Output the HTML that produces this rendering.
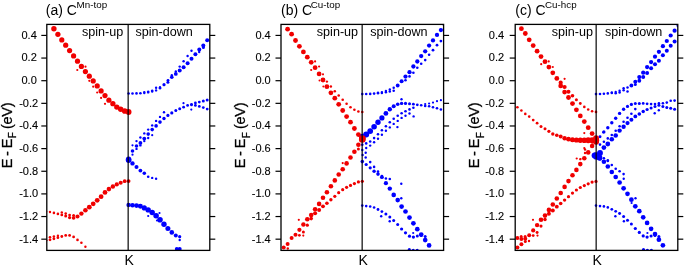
<!DOCTYPE html>
<html><head><meta charset="utf-8"><style>
html,body{margin:0;padding:0;background:#fff;}
svg{display:block;will-change:transform;font-family:"Liberation Sans",sans-serif;fill:#111;}
text{fill:#000;}
</style></head><body>
<svg width="685" height="267" viewBox="0 0 685 267">
<defs>
<clipPath id="c0"><rect x="46.8" y="24.4" width="163.0" height="226.0"/></clipPath>
<clipPath id="c1"><rect x="281.0" y="24.4" width="162.6" height="226.0"/></clipPath>
<clipPath id="c2"><rect x="515.2" y="24.4" width="162.6" height="226.0"/></clipPath>
</defs>
<g clip-path="url(#c0)">
<g fill="#0000ff">
<circle cx="128.6" cy="93.5" r="1.30"/>
<circle cx="132.5" cy="93.5" r="1.30"/>
<circle cx="136.5" cy="93.4" r="1.30"/>
<circle cx="140.4" cy="93.2" r="1.30"/>
<circle cx="144.3" cy="93.0" r="1.20"/>
<circle cx="148.2" cy="92.4" r="1.20"/>
<circle cx="152.2" cy="91.5" r="1.20"/>
<circle cx="156.1" cy="90.4" r="1.20"/>
<circle cx="160.0" cy="88.2" r="1.25"/>
<circle cx="164.0" cy="84.7" r="1.59"/>
<circle cx="167.9" cy="82.3" r="1.50"/>
<circle cx="171.8" cy="77.3" r="1.81"/>
<circle cx="175.8" cy="73.9" r="1.91"/>
<circle cx="179.7" cy="70.4" r="2.00"/>
<circle cx="183.6" cy="67.3" r="2.00"/>
<circle cx="187.6" cy="63.3" r="2.00"/>
<circle cx="191.5" cy="58.8" r="2.00"/>
<circle cx="195.4" cy="54.3" r="2.00"/>
<circle cx="199.3" cy="49.6" r="2.00"/>
<circle cx="203.3" cy="45.6" r="2.00"/>
<circle cx="207.2" cy="40.3" r="2.00"/>
<circle cx="144.3" cy="92.1" r="1.20"/>
<circle cx="148.2" cy="91.6" r="1.20"/>
<circle cx="152.2" cy="90.6" r="1.20"/>
<circle cx="156.1" cy="87.7" r="1.20"/>
<circle cx="160.0" cy="87.2" r="1.20"/>
<circle cx="168.0" cy="80.3" r="1.40"/>
<circle cx="203.4" cy="47.4" r="1.50"/>
<circle cx="199.2" cy="52.0" r="1.20"/>
<circle cx="171.8" cy="75.3" r="1.20"/>
<circle cx="175.8" cy="71.4" r="1.20"/>
<circle cx="179.7" cy="66.6" r="1.20"/>
<circle cx="183.6" cy="61.3" r="1.20"/>
<circle cx="187.6" cy="56.0" r="1.20"/>
<circle cx="191.5" cy="50.8" r="1.20"/>
<circle cx="128.6" cy="159.3" r="2.73"/>
<circle cx="132.5" cy="151.0" r="1.80"/>
<circle cx="136.5" cy="146.0" r="1.80"/>
<circle cx="140.4" cy="142.9" r="1.90"/>
<circle cx="144.3" cy="138.6" r="1.90"/>
<circle cx="148.2" cy="134.1" r="1.80"/>
<circle cx="152.2" cy="129.6" r="1.80"/>
<circle cx="156.1" cy="125.9" r="1.80"/>
<circle cx="160.0" cy="122.1" r="1.80"/>
<circle cx="164.0" cy="118.5" r="1.70"/>
<circle cx="167.9" cy="115.4" r="1.60"/>
<circle cx="171.8" cy="112.9" r="1.60"/>
<circle cx="175.8" cy="110.6" r="1.50"/>
<circle cx="179.7" cy="108.7" r="1.50"/>
<circle cx="183.6" cy="107.2" r="1.40"/>
<circle cx="187.6" cy="105.4" r="1.40"/>
<circle cx="191.5" cy="104.3" r="1.40"/>
<circle cx="195.4" cy="103.0" r="1.40"/>
<circle cx="199.3" cy="102.1" r="1.40"/>
<circle cx="203.3" cy="101.1" r="1.50"/>
<circle cx="207.2" cy="100.1" r="1.50"/>
<circle cx="132.5" cy="145.3" r="1.11"/>
<circle cx="136.5" cy="141.1" r="1.20"/>
<circle cx="140.4" cy="137.5" r="1.20"/>
<circle cx="144.3" cy="133.4" r="1.20"/>
<circle cx="148.2" cy="129.6" r="1.20"/>
<circle cx="152.2" cy="125.4" r="1.20"/>
<circle cx="156.1" cy="120.9" r="1.20"/>
<circle cx="160.0" cy="116.9" r="1.20"/>
<circle cx="164.0" cy="112.3" r="1.20"/>
<circle cx="191.5" cy="105.0" r="1.30"/>
<circle cx="195.4" cy="105.4" r="1.40"/>
<circle cx="199.3" cy="106.4" r="1.40"/>
<circle cx="203.3" cy="107.6" r="1.40"/>
<circle cx="207.2" cy="109.1" r="1.40"/>
<circle cx="132.5" cy="154.7" r="1.11"/>
<circle cx="136.5" cy="148.9" r="1.20"/>
<circle cx="140.4" cy="145.4" r="1.20"/>
<circle cx="144.3" cy="141.1" r="1.20"/>
<circle cx="148.2" cy="138.0" r="1.20"/>
<circle cx="152.2" cy="135.2" r="1.10"/>
<circle cx="191.3" cy="109.6" r="1.10"/>
<circle cx="183.5" cy="103.2" r="1.10"/>
<circle cx="128.6" cy="160.2" r="2.75"/>
<circle cx="132.5" cy="163.4" r="2.18"/>
<circle cx="136.5" cy="166.9" r="2.00"/>
<circle cx="140.4" cy="170.6" r="1.90"/>
<circle cx="144.3" cy="173.3" r="1.78"/>
<circle cx="148.2" cy="176.7" r="1.30"/>
<circle cx="152.2" cy="177.9" r="1.20"/>
<circle cx="156.1" cy="178.7" r="1.20"/>
<circle cx="128.6" cy="204.9" r="2.21"/>
<circle cx="132.5" cy="205.2" r="2.30"/>
<circle cx="136.5" cy="205.6" r="2.40"/>
<circle cx="140.4" cy="206.3" r="2.49"/>
<circle cx="144.3" cy="207.9" r="2.59"/>
<circle cx="148.2" cy="209.9" r="2.69"/>
<circle cx="152.2" cy="212.5" r="2.70"/>
<circle cx="156.1" cy="215.8" r="2.79"/>
<circle cx="160.0" cy="219.7" r="2.80"/>
<circle cx="164.0" cy="224.2" r="2.70"/>
<circle cx="167.9" cy="228.5" r="2.51"/>
<circle cx="171.8" cy="232.4" r="2.30"/>
<circle cx="175.8" cy="235.4" r="2.00"/>
<circle cx="179.7" cy="236.7" r="1.60"/>
<circle cx="176.8" cy="249.0" r="2.00"/>
<circle cx="179.7" cy="249.0" r="2.00"/>
<circle cx="148.2" cy="216.0" r="1.10"/>
<circle cx="159.5" cy="213.0" r="1.10"/>
<circle cx="157.0" cy="220.5" r="1.10"/>
<circle cx="179.7" cy="240.0" r="1.20"/>
</g>
<g fill="#f00000">
<circle cx="53.9" cy="28.7" r="2.70"/>
<circle cx="57.9" cy="34.3" r="2.65"/>
<circle cx="61.8" cy="39.9" r="2.60"/>
<circle cx="65.7" cy="45.2" r="2.60"/>
<circle cx="69.6" cy="50.6" r="2.60"/>
<circle cx="73.6" cy="55.9" r="2.60"/>
<circle cx="77.5" cy="61.2" r="2.60"/>
<circle cx="81.4" cy="66.4" r="2.60"/>
<circle cx="85.4" cy="71.6" r="2.60"/>
<circle cx="89.3" cy="76.2" r="2.60"/>
<circle cx="93.2" cy="80.9" r="2.60"/>
<circle cx="97.2" cy="85.9" r="2.60"/>
<circle cx="101.1" cy="90.9" r="2.60"/>
<circle cx="105.0" cy="95.6" r="2.60"/>
<circle cx="108.9" cy="100.2" r="2.60"/>
<circle cx="112.9" cy="103.7" r="2.65"/>
<circle cx="116.8" cy="107.1" r="2.70"/>
<circle cx="120.7" cy="109.2" r="2.71"/>
<circle cx="124.7" cy="111.0" r="2.82"/>
<circle cx="128.6" cy="112.0" r="2.90"/>
<circle cx="46.1" cy="211.5" r="1.20"/>
<circle cx="50.0" cy="212.0" r="1.21"/>
<circle cx="53.9" cy="212.9" r="1.30"/>
<circle cx="57.9" cy="213.9" r="1.31"/>
<circle cx="61.8" cy="214.9" r="1.41"/>
<circle cx="65.7" cy="216.1" r="1.50"/>
<circle cx="69.6" cy="217.6" r="1.60"/>
<circle cx="73.6" cy="218.0" r="1.82"/>
<circle cx="77.5" cy="216.4" r="2.02"/>
<circle cx="81.4" cy="213.6" r="2.21"/>
<circle cx="85.4" cy="210.3" r="2.30"/>
<circle cx="89.3" cy="207.2" r="2.40"/>
<circle cx="93.2" cy="203.8" r="2.40"/>
<circle cx="97.2" cy="200.3" r="2.40"/>
<circle cx="101.1" cy="196.7" r="2.40"/>
<circle cx="105.0" cy="192.4" r="2.39"/>
<circle cx="108.9" cy="189.1" r="2.30"/>
<circle cx="112.9" cy="186.5" r="2.21"/>
<circle cx="116.8" cy="184.4" r="2.12"/>
<circle cx="120.7" cy="182.7" r="2.02"/>
<circle cx="124.7" cy="181.2" r="1.91"/>
<circle cx="128.6" cy="181.1" r="1.90"/>
<circle cx="46.1" cy="240.3" r="1.40"/>
<circle cx="50.0" cy="239.8" r="1.40"/>
<circle cx="53.9" cy="238.8" r="1.40"/>
<circle cx="57.9" cy="237.7" r="1.40"/>
<circle cx="61.8" cy="236.5" r="1.40"/>
<circle cx="65.7" cy="235.4" r="1.40"/>
<circle cx="69.6" cy="235.4" r="1.40"/>
<circle cx="73.6" cy="236.9" r="1.39"/>
<circle cx="77.5" cy="239.9" r="1.30"/>
<circle cx="81.4" cy="242.7" r="1.29"/>
<circle cx="85.4" cy="246.8" r="1.20"/>
<circle cx="89.3" cy="80.8" r="1.10"/>
<circle cx="93.2" cy="86.7" r="1.10"/>
<circle cx="97.2" cy="92.5" r="1.10"/>
<circle cx="101.1" cy="97.9" r="1.10"/>
<circle cx="105.0" cy="103.8" r="1.10"/>
<circle cx="77.3" cy="70.0" r="1.10"/>
<circle cx="85.5" cy="66.7" r="1.10"/>
<circle cx="61.8" cy="212.4" r="1.21"/>
<circle cx="65.7" cy="213.6" r="1.30"/>
<circle cx="69.6" cy="215.1" r="1.40"/>
<circle cx="73.6" cy="215.6" r="1.50"/>
<circle cx="50.0" cy="237.3" r="1.30"/>
<circle cx="53.9" cy="236.6" r="1.29"/>
<circle cx="57.9" cy="235.8" r="1.20"/>
</g>
</g>
<g clip-path="url(#c1)">
<g fill="#0000ff">
<circle cx="362.3" cy="94.1" r="1.30"/>
<circle cx="366.2" cy="94.0" r="1.30"/>
<circle cx="370.2" cy="93.9" r="1.30"/>
<circle cx="374.1" cy="93.6" r="1.30"/>
<circle cx="378.0" cy="93.3" r="1.25"/>
<circle cx="381.9" cy="92.9" r="1.25"/>
<circle cx="385.9" cy="92.2" r="1.25"/>
<circle cx="389.8" cy="91.4" r="1.25"/>
<circle cx="393.7" cy="90.8" r="1.27"/>
<circle cx="397.7" cy="85.5" r="1.91"/>
<circle cx="401.6" cy="81.2" r="2.01"/>
<circle cx="405.5" cy="76.6" r="2.11"/>
<circle cx="409.5" cy="72.2" r="2.15"/>
<circle cx="413.4" cy="66.5" r="2.15"/>
<circle cx="417.3" cy="61.5" r="2.15"/>
<circle cx="421.2" cy="56.1" r="2.15"/>
<circle cx="425.2" cy="51.3" r="2.15"/>
<circle cx="429.1" cy="45.6" r="2.15"/>
<circle cx="433.0" cy="40.4" r="2.15"/>
<circle cx="437.0" cy="34.9" r="2.15"/>
<circle cx="440.9" cy="30.1" r="2.15"/>
<circle cx="444.8" cy="24.9" r="2.15"/>
<circle cx="378.0" cy="92.6" r="1.20"/>
<circle cx="381.9" cy="92.1" r="1.20"/>
<circle cx="385.9" cy="91.0" r="1.20"/>
<circle cx="389.8" cy="89.5" r="1.20"/>
<circle cx="393.7" cy="87.8" r="1.25"/>
<circle cx="405.5" cy="80.3" r="1.30"/>
<circle cx="409.5" cy="76.4" r="1.30"/>
<circle cx="413.4" cy="72.7" r="1.30"/>
<circle cx="417.3" cy="67.8" r="1.30"/>
<circle cx="421.2" cy="63.8" r="1.30"/>
<circle cx="425.2" cy="60.1" r="1.30"/>
<circle cx="429.1" cy="54.7" r="1.31"/>
<circle cx="433.0" cy="50.2" r="1.40"/>
<circle cx="437.0" cy="45.2" r="1.40"/>
<circle cx="440.9" cy="41.1" r="1.40"/>
<circle cx="362.3" cy="137.0" r="3.20"/>
<circle cx="366.2" cy="134.5" r="3.00"/>
<circle cx="370.2" cy="131.1" r="2.89"/>
<circle cx="374.1" cy="126.8" r="2.79"/>
<circle cx="378.0" cy="122.3" r="2.69"/>
<circle cx="381.9" cy="117.9" r="2.60"/>
<circle cx="385.9" cy="113.4" r="2.40"/>
<circle cx="389.8" cy="109.3" r="2.20"/>
<circle cx="393.7" cy="106.3" r="2.00"/>
<circle cx="397.7" cy="104.3" r="1.81"/>
<circle cx="401.6" cy="103.4" r="1.70"/>
<circle cx="405.5" cy="103.4" r="1.60"/>
<circle cx="409.5" cy="103.8" r="1.50"/>
<circle cx="413.4" cy="104.2" r="1.41"/>
<circle cx="417.3" cy="104.8" r="1.40"/>
<circle cx="421.2" cy="105.3" r="1.31"/>
<circle cx="425.2" cy="105.9" r="1.30"/>
<circle cx="429.1" cy="106.3" r="1.30"/>
<circle cx="433.0" cy="107.3" r="1.30"/>
<circle cx="437.0" cy="108.3" r="1.30"/>
<circle cx="440.9" cy="109.5" r="1.30"/>
<circle cx="425.2" cy="104.0" r="1.10"/>
<circle cx="429.1" cy="103.5" r="1.10"/>
<circle cx="433.0" cy="102.6" r="1.10"/>
<circle cx="437.0" cy="101.2" r="1.10"/>
<circle cx="440.9" cy="100.2" r="1.10"/>
<circle cx="362.3" cy="144.7" r="1.30"/>
<circle cx="366.2" cy="143.4" r="1.30"/>
<circle cx="370.2" cy="141.5" r="1.30"/>
<circle cx="374.1" cy="138.1" r="1.30"/>
<circle cx="378.0" cy="134.2" r="1.30"/>
<circle cx="381.9" cy="130.2" r="1.30"/>
<circle cx="385.9" cy="126.3" r="1.30"/>
<circle cx="389.8" cy="122.3" r="1.30"/>
<circle cx="393.7" cy="118.7" r="1.30"/>
<circle cx="397.7" cy="115.8" r="1.30"/>
<circle cx="401.6" cy="113.3" r="1.30"/>
<circle cx="405.5" cy="111.3" r="1.30"/>
<circle cx="409.5" cy="109.4" r="1.30"/>
<circle cx="413.4" cy="107.8" r="1.30"/>
<circle cx="362.3" cy="150.0" r="1.20"/>
<circle cx="366.2" cy="148.0" r="1.20"/>
<circle cx="370.2" cy="145.6" r="1.20"/>
<circle cx="374.1" cy="142.2" r="1.20"/>
<circle cx="378.0" cy="138.8" r="1.20"/>
<circle cx="381.9" cy="134.8" r="1.20"/>
<circle cx="385.9" cy="130.8" r="1.20"/>
<circle cx="389.8" cy="127.4" r="1.20"/>
<circle cx="393.7" cy="123.9" r="1.20"/>
<circle cx="397.7" cy="120.9" r="1.20"/>
<circle cx="401.6" cy="117.9" r="1.20"/>
<circle cx="405.5" cy="115.7" r="1.20"/>
<circle cx="409.5" cy="113.5" r="1.20"/>
<circle cx="362.3" cy="161.6" r="1.80"/>
<circle cx="366.2" cy="164.5" r="1.60"/>
<circle cx="370.2" cy="167.8" r="1.61"/>
<circle cx="374.1" cy="171.2" r="1.71"/>
<circle cx="378.0" cy="174.1" r="1.80"/>
<circle cx="381.9" cy="177.2" r="1.91"/>
<circle cx="385.9" cy="183.2" r="2.11"/>
<circle cx="389.8" cy="188.6" r="2.20"/>
<circle cx="393.7" cy="194.9" r="2.30"/>
<circle cx="397.7" cy="200.1" r="2.30"/>
<circle cx="401.6" cy="206.6" r="2.35"/>
<circle cx="405.5" cy="211.5" r="2.35"/>
<circle cx="409.5" cy="217.6" r="2.35"/>
<circle cx="413.4" cy="223.3" r="2.35"/>
<circle cx="417.3" cy="229.2" r="2.35"/>
<circle cx="421.2" cy="234.5" r="2.35"/>
<circle cx="425.2" cy="240.1" r="2.35"/>
<circle cx="429.1" cy="245.4" r="2.35"/>
<circle cx="370.2" cy="162.1" r="1.30"/>
<circle cx="374.1" cy="166.9" r="1.30"/>
<circle cx="378.0" cy="171.6" r="1.30"/>
<circle cx="381.9" cy="176.1" r="1.30"/>
<circle cx="385.9" cy="178.5" r="1.30"/>
<circle cx="389.8" cy="179.0" r="1.30"/>
<circle cx="401.3" cy="183.7" r="1.20"/>
<circle cx="365.7" cy="152.8" r="1.20"/>
<circle cx="365.7" cy="157.5" r="1.20"/>
<circle cx="362.6" cy="155.0" r="1.20"/>
<circle cx="362.3" cy="205.6" r="1.30"/>
<circle cx="366.2" cy="206.1" r="1.30"/>
<circle cx="370.2" cy="206.5" r="1.30"/>
<circle cx="374.1" cy="207.5" r="1.31"/>
<circle cx="378.0" cy="209.5" r="1.40"/>
<circle cx="381.9" cy="211.6" r="1.41"/>
<circle cx="385.9" cy="213.9" r="1.50"/>
<circle cx="389.8" cy="216.9" r="1.50"/>
<circle cx="393.7" cy="220.6" r="1.50"/>
<circle cx="397.7" cy="224.4" r="1.50"/>
<circle cx="401.6" cy="229.0" r="1.60"/>
<circle cx="405.5" cy="232.8" r="1.60"/>
<circle cx="409.5" cy="236.2" r="1.60"/>
<circle cx="413.4" cy="237.1" r="1.60"/>
<circle cx="417.3" cy="236.0" r="1.50"/>
<circle cx="421.2" cy="235.5" r="1.50"/>
<circle cx="425.2" cy="236.5" r="1.50"/>
<circle cx="409.3" cy="249.6" r="1.60"/>
<circle cx="413.2" cy="250.3" r="1.60"/>
<circle cx="417.2" cy="250.3" r="1.60"/>
<circle cx="381.2" cy="216.3" r="1.20"/>
<circle cx="389.7" cy="221.3" r="1.20"/>
<circle cx="401.3" cy="198.2" r="1.20"/>
<circle cx="401.5" cy="99.2" r="1.20"/>
<circle cx="397.4" cy="127.1" r="1.20"/>
<circle cx="413.6" cy="116.4" r="1.20"/>
<circle cx="413.2" cy="233.0" r="1.10"/>
</g>
<g fill="#f00000">
<circle cx="287.6" cy="29.2" r="2.40"/>
<circle cx="291.6" cy="34.2" r="2.40"/>
<circle cx="295.5" cy="40.5" r="2.40"/>
<circle cx="299.4" cy="46.3" r="2.40"/>
<circle cx="303.4" cy="51.9" r="2.40"/>
<circle cx="307.3" cy="57.2" r="2.40"/>
<circle cx="311.2" cy="62.3" r="2.40"/>
<circle cx="315.1" cy="67.7" r="2.40"/>
<circle cx="319.1" cy="73.9" r="2.40"/>
<circle cx="323.0" cy="80.0" r="2.40"/>
<circle cx="326.9" cy="86.7" r="2.40"/>
<circle cx="330.9" cy="92.8" r="2.40"/>
<circle cx="334.8" cy="98.2" r="2.40"/>
<circle cx="338.7" cy="104.3" r="2.40"/>
<circle cx="342.7" cy="110.5" r="2.40"/>
<circle cx="346.6" cy="116.6" r="2.40"/>
<circle cx="350.5" cy="122.2" r="2.40"/>
<circle cx="354.4" cy="128.5" r="2.40"/>
<circle cx="358.4" cy="134.6" r="2.40"/>
<circle cx="362.3" cy="138.7" r="3.33"/>
<circle cx="315.1" cy="61.4" r="1.10"/>
<circle cx="319.1" cy="66.5" r="1.10"/>
<circle cx="323.0" cy="74.3" r="1.10"/>
<circle cx="326.9" cy="81.6" r="1.20"/>
<circle cx="330.9" cy="86.5" r="1.20"/>
<circle cx="334.8" cy="91.3" r="1.30"/>
<circle cx="338.7" cy="95.5" r="1.30"/>
<circle cx="342.7" cy="99.8" r="1.30"/>
<circle cx="346.6" cy="103.7" r="1.30"/>
<circle cx="350.5" cy="107.3" r="1.30"/>
<circle cx="354.4" cy="109.8" r="1.30"/>
<circle cx="358.4" cy="111.5" r="1.30"/>
<circle cx="362.3" cy="112.0" r="1.30"/>
<circle cx="311.2" cy="70.0" r="1.10"/>
<circle cx="323.4" cy="86.5" r="1.10"/>
<circle cx="342.7" cy="163.1" r="1.10"/>
<circle cx="319.5" cy="80.5" r="1.00"/>
<circle cx="283.7" cy="247.4" r="2.00"/>
<circle cx="287.6" cy="243.9" r="2.00"/>
<circle cx="291.6" cy="238.1" r="2.00"/>
<circle cx="295.5" cy="234.7" r="2.01"/>
<circle cx="299.4" cy="229.8" r="2.11"/>
<circle cx="303.4" cy="224.5" r="2.21"/>
<circle cx="307.3" cy="219.3" r="2.30"/>
<circle cx="311.2" cy="215.0" r="2.30"/>
<circle cx="315.1" cy="209.2" r="2.30"/>
<circle cx="319.1" cy="203.9" r="2.30"/>
<circle cx="323.0" cy="197.8" r="2.30"/>
<circle cx="326.9" cy="192.3" r="2.30"/>
<circle cx="330.9" cy="186.2" r="2.30"/>
<circle cx="334.8" cy="180.4" r="2.30"/>
<circle cx="338.7" cy="174.5" r="2.30"/>
<circle cx="342.7" cy="169.3" r="2.30"/>
<circle cx="346.6" cy="163.4" r="2.30"/>
<circle cx="350.5" cy="157.5" r="2.30"/>
<circle cx="354.4" cy="151.7" r="2.30"/>
<circle cx="358.4" cy="144.8" r="2.30"/>
<circle cx="362.3" cy="139.4" r="3.32"/>
<circle cx="299.4" cy="235.3" r="1.41"/>
<circle cx="303.4" cy="232.0" r="1.50"/>
<circle cx="307.3" cy="225.2" r="1.60"/>
<circle cx="311.2" cy="218.6" r="1.80"/>
<circle cx="315.1" cy="213.2" r="2.00"/>
<circle cx="319.1" cy="210.0" r="2.00"/>
<circle cx="323.0" cy="206.3" r="1.90"/>
<circle cx="326.9" cy="203.2" r="1.80"/>
<circle cx="330.9" cy="199.7" r="1.69"/>
<circle cx="334.8" cy="196.3" r="1.60"/>
<circle cx="338.7" cy="192.7" r="1.60"/>
<circle cx="342.7" cy="189.7" r="1.60"/>
<circle cx="346.6" cy="187.3" r="1.60"/>
<circle cx="350.5" cy="185.4" r="1.60"/>
<circle cx="354.4" cy="183.6" r="1.60"/>
<circle cx="358.4" cy="181.9" r="1.60"/>
<circle cx="362.3" cy="181.3" r="1.60"/>
<circle cx="298.8" cy="219.8" r="1.10"/>
<circle cx="303.3" cy="235.6" r="1.10"/>
<circle cx="287.8" cy="248.5" r="1.20"/>
<circle cx="358.4" cy="149.0" r="1.50"/>
</g>
</g>
<g clip-path="url(#c2)">
<g fill="#0000ff">
<circle cx="596.0" cy="94.1" r="1.30"/>
<circle cx="600.0" cy="94.0" r="1.30"/>
<circle cx="603.9" cy="93.7" r="1.30"/>
<circle cx="607.8" cy="93.4" r="1.30"/>
<circle cx="611.8" cy="93.0" r="1.25"/>
<circle cx="615.7" cy="93.3" r="1.25"/>
<circle cx="619.6" cy="92.5" r="1.25"/>
<circle cx="623.6" cy="90.3" r="1.25"/>
<circle cx="627.5" cy="91.4" r="1.25"/>
<circle cx="631.4" cy="85.5" r="1.90"/>
<circle cx="635.3" cy="81.7" r="2.00"/>
<circle cx="639.3" cy="77.1" r="2.10"/>
<circle cx="643.2" cy="72.7" r="2.10"/>
<circle cx="647.1" cy="67.1" r="2.10"/>
<circle cx="651.1" cy="62.1" r="2.10"/>
<circle cx="655.0" cy="56.7" r="2.10"/>
<circle cx="658.9" cy="51.8" r="2.10"/>
<circle cx="662.9" cy="46.2" r="2.10"/>
<circle cx="666.8" cy="41.0" r="2.10"/>
<circle cx="670.7" cy="35.5" r="2.10"/>
<circle cx="674.6" cy="30.7" r="2.10"/>
<circle cx="678.6" cy="25.5" r="2.10"/>
<circle cx="611.8" cy="92.5" r="1.20"/>
<circle cx="615.7" cy="91.9" r="1.20"/>
<circle cx="619.6" cy="90.8" r="1.20"/>
<circle cx="623.6" cy="88.2" r="1.25"/>
<circle cx="627.5" cy="87.4" r="1.25"/>
<circle cx="635.3" cy="84.5" r="1.50"/>
<circle cx="639.3" cy="80.8" r="1.94"/>
<circle cx="643.2" cy="76.9" r="2.00"/>
<circle cx="647.1" cy="73.1" r="2.00"/>
<circle cx="651.1" cy="68.3" r="2.00"/>
<circle cx="655.0" cy="64.2" r="2.00"/>
<circle cx="658.9" cy="60.7" r="2.00"/>
<circle cx="662.9" cy="55.2" r="2.00"/>
<circle cx="666.8" cy="50.7" r="2.00"/>
<circle cx="670.7" cy="45.7" r="2.00"/>
<circle cx="674.6" cy="41.5" r="2.00"/>
<circle cx="596.0" cy="138.0" r="1.30"/>
<circle cx="600.0" cy="136.7" r="1.49"/>
<circle cx="603.9" cy="131.9" r="1.61"/>
<circle cx="607.8" cy="127.8" r="1.70"/>
<circle cx="611.8" cy="122.8" r="1.70"/>
<circle cx="615.7" cy="118.2" r="1.70"/>
<circle cx="619.6" cy="113.4" r="1.70"/>
<circle cx="623.6" cy="109.3" r="1.70"/>
<circle cx="627.5" cy="106.4" r="1.61"/>
<circle cx="631.4" cy="104.4" r="1.60"/>
<circle cx="635.3" cy="103.4" r="1.50"/>
<circle cx="639.3" cy="103.4" r="1.50"/>
<circle cx="643.2" cy="103.4" r="1.41"/>
<circle cx="647.1" cy="103.8" r="1.40"/>
<circle cx="651.1" cy="104.1" r="1.32"/>
<circle cx="655.0" cy="104.0" r="1.30"/>
<circle cx="658.9" cy="103.2" r="1.30"/>
<circle cx="662.9" cy="103.2" r="1.30"/>
<circle cx="666.8" cy="102.6" r="1.30"/>
<circle cx="670.7" cy="100.7" r="1.30"/>
<circle cx="674.6" cy="100.6" r="1.30"/>
<circle cx="596.0" cy="155.6" r="3.40"/>
<circle cx="600.0" cy="153.0" r="2.93"/>
<circle cx="603.9" cy="147.6" r="2.40"/>
<circle cx="607.8" cy="144.0" r="2.40"/>
<circle cx="611.8" cy="139.3" r="2.30"/>
<circle cx="615.7" cy="135.5" r="2.30"/>
<circle cx="619.6" cy="130.6" r="2.20"/>
<circle cx="623.6" cy="126.7" r="2.20"/>
<circle cx="627.5" cy="123.1" r="2.11"/>
<circle cx="631.4" cy="119.8" r="2.01"/>
<circle cx="635.3" cy="116.4" r="1.90"/>
<circle cx="639.3" cy="114.0" r="1.81"/>
<circle cx="643.2" cy="111.5" r="1.71"/>
<circle cx="647.1" cy="109.5" r="1.61"/>
<circle cx="651.1" cy="108.0" r="1.52"/>
<circle cx="655.0" cy="106.5" r="1.50"/>
<circle cx="658.9" cy="105.2" r="1.50"/>
<circle cx="662.9" cy="106.6" r="1.50"/>
<circle cx="666.8" cy="107.6" r="1.50"/>
<circle cx="670.7" cy="108.2" r="1.50"/>
<circle cx="674.6" cy="109.2" r="1.50"/>
<circle cx="600.0" cy="144.6" r="1.30"/>
<circle cx="603.9" cy="141.7" r="1.30"/>
<circle cx="607.8" cy="138.4" r="1.30"/>
<circle cx="611.8" cy="135.0" r="1.30"/>
<circle cx="615.7" cy="130.7" r="1.30"/>
<circle cx="619.6" cy="126.2" r="1.30"/>
<circle cx="623.6" cy="121.7" r="1.30"/>
<circle cx="627.5" cy="117.7" r="1.30"/>
<circle cx="631.4" cy="113.8" r="1.30"/>
<circle cx="635.3" cy="109.1" r="1.30"/>
<circle cx="654.7" cy="113.3" r="1.20"/>
<circle cx="658.8" cy="110.3" r="1.20"/>
<circle cx="603.4" cy="132.2" r="1.20"/>
<circle cx="599.3" cy="157.5" r="3.00"/>
<circle cx="594.6" cy="155.6" r="3.00"/>
<circle cx="596.0" cy="157.0" r="2.60"/>
<circle cx="600.0" cy="158.6" r="2.20"/>
<circle cx="603.9" cy="161.7" r="2.30"/>
<circle cx="607.8" cy="166.5" r="2.30"/>
<circle cx="611.8" cy="172.0" r="2.30"/>
<circle cx="615.7" cy="177.0" r="2.35"/>
<circle cx="619.6" cy="182.5" r="2.35"/>
<circle cx="623.6" cy="188.3" r="2.35"/>
<circle cx="627.5" cy="193.8" r="2.35"/>
<circle cx="631.4" cy="199.7" r="2.35"/>
<circle cx="635.3" cy="206.3" r="2.35"/>
<circle cx="639.3" cy="211.2" r="2.35"/>
<circle cx="643.2" cy="217.3" r="2.35"/>
<circle cx="647.1" cy="222.9" r="2.35"/>
<circle cx="651.1" cy="228.8" r="2.35"/>
<circle cx="655.0" cy="234.1" r="2.35"/>
<circle cx="658.9" cy="239.7" r="2.35"/>
<circle cx="662.9" cy="245.3" r="2.35"/>
<circle cx="603.9" cy="158.2" r="1.30"/>
<circle cx="607.8" cy="161.0" r="1.30"/>
<circle cx="611.8" cy="165.0" r="1.30"/>
<circle cx="615.7" cy="168.7" r="1.30"/>
<circle cx="619.6" cy="171.2" r="1.30"/>
<circle cx="623.6" cy="174.1" r="1.30"/>
<circle cx="623.7" cy="178.7" r="1.20"/>
<circle cx="607.8" cy="160.3" r="1.30"/>
<circle cx="596.0" cy="205.6" r="1.30"/>
<circle cx="600.0" cy="206.1" r="1.30"/>
<circle cx="603.9" cy="206.4" r="1.30"/>
<circle cx="607.8" cy="207.4" r="1.30"/>
<circle cx="611.8" cy="209.3" r="1.39"/>
<circle cx="615.7" cy="211.3" r="1.40"/>
<circle cx="619.6" cy="213.6" r="1.49"/>
<circle cx="623.6" cy="216.5" r="1.50"/>
<circle cx="627.5" cy="220.2" r="1.50"/>
<circle cx="631.4" cy="223.9" r="1.50"/>
<circle cx="635.3" cy="228.5" r="1.60"/>
<circle cx="639.3" cy="232.4" r="1.60"/>
<circle cx="643.2" cy="235.9" r="1.60"/>
<circle cx="647.1" cy="237.1" r="1.60"/>
<circle cx="651.1" cy="236.1" r="1.51"/>
<circle cx="655.0" cy="235.4" r="1.50"/>
<circle cx="658.9" cy="236.5" r="1.50"/>
<circle cx="643.5" cy="249.6" r="1.60"/>
<circle cx="647.4" cy="250.3" r="1.60"/>
<circle cx="651.4" cy="250.3" r="1.60"/>
<circle cx="615.4" cy="216.3" r="1.20"/>
<circle cx="623.9" cy="221.3" r="1.20"/>
<circle cx="635.5" cy="198.2" r="1.20"/>
<circle cx="631.6" cy="203.0" r="1.10"/>
<circle cx="647.4" cy="233.0" r="1.10"/>
</g>
<g fill="#f00000">
<circle cx="521.4" cy="28.7" r="2.40"/>
<circle cx="525.3" cy="33.5" r="2.40"/>
<circle cx="529.2" cy="39.8" r="2.40"/>
<circle cx="533.2" cy="45.6" r="2.40"/>
<circle cx="537.1" cy="51.2" r="2.40"/>
<circle cx="541.0" cy="56.6" r="2.40"/>
<circle cx="545.0" cy="61.7" r="2.40"/>
<circle cx="548.9" cy="67.1" r="2.40"/>
<circle cx="552.8" cy="72.8" r="2.40"/>
<circle cx="556.8" cy="78.4" r="2.40"/>
<circle cx="560.7" cy="85.9" r="2.40"/>
<circle cx="564.6" cy="92.1" r="2.40"/>
<circle cx="568.5" cy="97.5" r="2.40"/>
<circle cx="572.5" cy="103.6" r="2.40"/>
<circle cx="576.4" cy="109.8" r="2.40"/>
<circle cx="580.3" cy="115.9" r="2.40"/>
<circle cx="584.3" cy="121.6" r="2.40"/>
<circle cx="588.2" cy="127.7" r="2.40"/>
<circle cx="592.1" cy="133.6" r="2.40"/>
<circle cx="596.0" cy="138.2" r="2.89"/>
<circle cx="560.7" cy="82.7" r="2.10"/>
<circle cx="564.6" cy="87.0" r="2.09"/>
<circle cx="568.5" cy="91.8" r="1.99"/>
<circle cx="572.5" cy="95.8" r="1.81"/>
<circle cx="576.4" cy="99.8" r="1.52"/>
<circle cx="580.3" cy="103.5" r="1.41"/>
<circle cx="584.3" cy="106.9" r="1.31"/>
<circle cx="588.2" cy="109.5" r="1.30"/>
<circle cx="592.1" cy="111.3" r="1.30"/>
<circle cx="596.0" cy="111.9" r="1.30"/>
<circle cx="552.8" cy="67.0" r="1.10"/>
<circle cx="548.7" cy="61.4" r="1.10"/>
<circle cx="541.2" cy="64.2" r="1.10"/>
<circle cx="564.6" cy="78.8" r="1.10"/>
<circle cx="584.3" cy="133.1" r="1.10"/>
<circle cx="584.3" cy="148.1" r="1.10"/>
<circle cx="580.2" cy="159.3" r="1.10"/>
<circle cx="592.2" cy="144.3" r="1.10"/>
<circle cx="576.7" cy="158.5" r="1.10"/>
<circle cx="517.4" cy="107.2" r="1.30"/>
<circle cx="521.4" cy="110.5" r="1.30"/>
<circle cx="525.3" cy="113.9" r="1.30"/>
<circle cx="529.2" cy="116.6" r="1.30"/>
<circle cx="533.2" cy="120.1" r="1.40"/>
<circle cx="537.1" cy="123.2" r="1.40"/>
<circle cx="541.0" cy="126.4" r="1.50"/>
<circle cx="545.0" cy="128.7" r="1.50"/>
<circle cx="548.9" cy="131.3" r="1.60"/>
<circle cx="552.8" cy="134.0" r="1.70"/>
<circle cx="556.8" cy="135.3" r="1.79"/>
<circle cx="560.7" cy="136.5" r="1.99"/>
<circle cx="564.6" cy="138.3" r="2.20"/>
<circle cx="568.5" cy="139.2" r="2.40"/>
<circle cx="572.5" cy="139.8" r="2.51"/>
<circle cx="576.4" cy="140.0" r="2.61"/>
<circle cx="580.3" cy="140.2" r="2.72"/>
<circle cx="584.3" cy="140.2" r="2.82"/>
<circle cx="588.2" cy="140.2" r="2.93"/>
<circle cx="592.1" cy="140.2" r="3.04"/>
<circle cx="596.0" cy="140.2" r="3.17"/>
<circle cx="517.4" cy="237.9" r="2.00"/>
<circle cx="521.4" cy="238.9" r="2.00"/>
<circle cx="525.3" cy="238.7" r="2.00"/>
<circle cx="529.2" cy="235.2" r="2.00"/>
<circle cx="533.2" cy="230.4" r="2.10"/>
<circle cx="537.1" cy="225.1" r="2.20"/>
<circle cx="541.0" cy="219.8" r="2.30"/>
<circle cx="545.0" cy="215.6" r="2.30"/>
<circle cx="548.9" cy="209.9" r="2.30"/>
<circle cx="552.8" cy="204.5" r="2.30"/>
<circle cx="556.8" cy="198.5" r="2.30"/>
<circle cx="560.7" cy="193.0" r="2.30"/>
<circle cx="564.6" cy="186.9" r="2.30"/>
<circle cx="568.5" cy="181.1" r="2.30"/>
<circle cx="572.5" cy="175.2" r="2.30"/>
<circle cx="576.4" cy="169.9" r="2.30"/>
<circle cx="580.3" cy="164.1" r="2.30"/>
<circle cx="584.3" cy="158.2" r="2.30"/>
<circle cx="588.2" cy="152.4" r="2.30"/>
<circle cx="592.1" cy="146.0" r="2.30"/>
<circle cx="596.0" cy="141.8" r="3.04"/>
<circle cx="517.4" cy="247.6" r="2.00"/>
<circle cx="521.4" cy="244.3" r="1.98"/>
<circle cx="525.3" cy="241.5" r="1.50"/>
<circle cx="533.2" cy="235.6" r="1.40"/>
<circle cx="537.1" cy="232.4" r="1.49"/>
<circle cx="541.0" cy="226.1" r="1.59"/>
<circle cx="545.0" cy="219.4" r="1.77"/>
<circle cx="548.9" cy="213.8" r="1.97"/>
<circle cx="552.8" cy="210.4" r="2.00"/>
<circle cx="556.8" cy="206.7" r="1.92"/>
<circle cx="560.7" cy="203.5" r="1.81"/>
<circle cx="564.6" cy="200.1" r="1.71"/>
<circle cx="568.5" cy="196.7" r="1.61"/>
<circle cx="572.5" cy="193.1" r="1.60"/>
<circle cx="576.4" cy="190.0" r="1.60"/>
<circle cx="580.3" cy="187.5" r="1.60"/>
<circle cx="584.3" cy="185.6" r="1.60"/>
<circle cx="588.2" cy="183.8" r="1.60"/>
<circle cx="592.1" cy="182.1" r="1.60"/>
<circle cx="596.0" cy="181.4" r="1.60"/>
<circle cx="533.0" cy="219.8" r="1.10"/>
<circle cx="537.5" cy="235.6" r="1.10"/>
<circle cx="529.0" cy="241.0" r="1.20"/>
<circle cx="525.1" cy="236.5" r="1.50"/>
<circle cx="521.2" cy="236.5" r="1.50"/>
<circle cx="585.0" cy="149.5" r="1.20"/>
<circle cx="585.0" cy="153.0" r="1.20"/>
<circle cx="580.5" cy="159.0" r="1.10"/>
</g>
</g>
<line x1="128.2" y1="24.4" x2="128.2" y2="250.4" stroke="#000" stroke-opacity="0.74" stroke-width="1.6"/>
<rect x="46.8" y="24.4" width="163.0" height="226.0" fill="none" stroke="#000" stroke-width="1.3"/>
<line x1="41.3" y1="35.42" x2="46.8" y2="35.42" stroke="#000" stroke-width="1.2"/>
<line x1="209.8" y1="35.42" x2="215.3" y2="35.42" stroke="#000" stroke-width="1.2"/>
<text x="36.8" y="38.77" text-anchor="end" font-size="11" stroke="#000" stroke-width="0.12">0.4</text>
<line x1="41.3" y1="58.06" x2="46.8" y2="58.06" stroke="#000" stroke-width="1.2"/>
<line x1="209.8" y1="58.06" x2="215.3" y2="58.06" stroke="#000" stroke-width="1.2"/>
<text x="36.8" y="61.41" text-anchor="end" font-size="11" stroke="#000" stroke-width="0.12">0.2</text>
<line x1="41.3" y1="80.70" x2="46.8" y2="80.70" stroke="#000" stroke-width="1.2"/>
<line x1="209.8" y1="80.70" x2="215.3" y2="80.70" stroke="#000" stroke-width="1.2"/>
<text x="36.8" y="84.05" text-anchor="end" font-size="11" stroke="#000" stroke-width="0.12">0.0</text>
<line x1="41.3" y1="103.34" x2="46.8" y2="103.34" stroke="#000" stroke-width="1.2"/>
<line x1="209.8" y1="103.34" x2="215.3" y2="103.34" stroke="#000" stroke-width="1.2"/>
<text x="38.1" y="106.69" text-anchor="end" font-size="11" stroke="#000" stroke-width="0.12">-0.2</text>
<line x1="41.3" y1="125.98" x2="46.8" y2="125.98" stroke="#000" stroke-width="1.2"/>
<line x1="209.8" y1="125.98" x2="215.3" y2="125.98" stroke="#000" stroke-width="1.2"/>
<text x="38.1" y="129.33" text-anchor="end" font-size="11" stroke="#000" stroke-width="0.12">-0.4</text>
<line x1="41.3" y1="148.62" x2="46.8" y2="148.62" stroke="#000" stroke-width="1.2"/>
<line x1="209.8" y1="148.62" x2="215.3" y2="148.62" stroke="#000" stroke-width="1.2"/>
<text x="38.1" y="151.97" text-anchor="end" font-size="11" stroke="#000" stroke-width="0.12">-0.6</text>
<line x1="41.3" y1="171.26" x2="46.8" y2="171.26" stroke="#000" stroke-width="1.2"/>
<line x1="209.8" y1="171.26" x2="215.3" y2="171.26" stroke="#000" stroke-width="1.2"/>
<text x="38.1" y="174.61" text-anchor="end" font-size="11" stroke="#000" stroke-width="0.12">-0.8</text>
<line x1="41.3" y1="193.90" x2="46.8" y2="193.90" stroke="#000" stroke-width="1.2"/>
<line x1="209.8" y1="193.90" x2="215.3" y2="193.90" stroke="#000" stroke-width="1.2"/>
<text x="38.1" y="197.25" text-anchor="end" font-size="11" stroke="#000" stroke-width="0.12">-1.0</text>
<line x1="41.3" y1="216.54" x2="46.8" y2="216.54" stroke="#000" stroke-width="1.2"/>
<line x1="209.8" y1="216.54" x2="215.3" y2="216.54" stroke="#000" stroke-width="1.2"/>
<text x="38.1" y="219.89" text-anchor="end" font-size="11" stroke="#000" stroke-width="0.12">-1.2</text>
<line x1="41.3" y1="239.18" x2="46.8" y2="239.18" stroke="#000" stroke-width="1.2"/>
<line x1="209.8" y1="239.18" x2="215.3" y2="239.18" stroke="#000" stroke-width="1.2"/>
<text x="38.1" y="242.53" text-anchor="end" font-size="11" stroke="#000" stroke-width="0.12">-1.4</text>
<text x="129.2" y="264.7" text-anchor="middle" font-size="14">K</text>
<text x="123.2" y="36" text-anchor="end" font-size="12.6" transform="translate(0,36) scale(1,1.05) translate(0,-36)">spin-up</text>
<text x="135.4" y="36" text-anchor="start" font-size="12.6" transform="translate(0,36) scale(1,1.05) translate(0,-36)">spin-down</text>
<line x1="362.2" y1="24.4" x2="362.2" y2="250.4" stroke="#000" stroke-opacity="0.74" stroke-width="1.6"/>
<rect x="281.0" y="24.4" width="162.6" height="226.0" fill="none" stroke="#000" stroke-width="1.3"/>
<line x1="275.5" y1="35.42" x2="281.0" y2="35.42" stroke="#000" stroke-width="1.2"/>
<line x1="443.6" y1="35.42" x2="449.1" y2="35.42" stroke="#000" stroke-width="1.2"/>
<text x="270.7" y="38.77" text-anchor="end" font-size="11" stroke="#000" stroke-width="0.12">0.4</text>
<line x1="275.5" y1="58.06" x2="281.0" y2="58.06" stroke="#000" stroke-width="1.2"/>
<line x1="443.6" y1="58.06" x2="449.1" y2="58.06" stroke="#000" stroke-width="1.2"/>
<text x="270.7" y="61.41" text-anchor="end" font-size="11" stroke="#000" stroke-width="0.12">0.2</text>
<line x1="275.5" y1="80.70" x2="281.0" y2="80.70" stroke="#000" stroke-width="1.2"/>
<line x1="443.6" y1="80.70" x2="449.1" y2="80.70" stroke="#000" stroke-width="1.2"/>
<text x="270.7" y="84.05" text-anchor="end" font-size="11" stroke="#000" stroke-width="0.12">0.0</text>
<line x1="275.5" y1="103.34" x2="281.0" y2="103.34" stroke="#000" stroke-width="1.2"/>
<line x1="443.6" y1="103.34" x2="449.1" y2="103.34" stroke="#000" stroke-width="1.2"/>
<text x="270.7" y="106.69" text-anchor="end" font-size="11" stroke="#000" stroke-width="0.12">-0.2</text>
<line x1="275.5" y1="125.98" x2="281.0" y2="125.98" stroke="#000" stroke-width="1.2"/>
<line x1="443.6" y1="125.98" x2="449.1" y2="125.98" stroke="#000" stroke-width="1.2"/>
<text x="270.7" y="129.33" text-anchor="end" font-size="11" stroke="#000" stroke-width="0.12">-0.4</text>
<line x1="275.5" y1="148.62" x2="281.0" y2="148.62" stroke="#000" stroke-width="1.2"/>
<line x1="443.6" y1="148.62" x2="449.1" y2="148.62" stroke="#000" stroke-width="1.2"/>
<text x="270.7" y="151.97" text-anchor="end" font-size="11" stroke="#000" stroke-width="0.12">-0.6</text>
<line x1="275.5" y1="171.26" x2="281.0" y2="171.26" stroke="#000" stroke-width="1.2"/>
<line x1="443.6" y1="171.26" x2="449.1" y2="171.26" stroke="#000" stroke-width="1.2"/>
<text x="270.7" y="174.61" text-anchor="end" font-size="11" stroke="#000" stroke-width="0.12">-0.8</text>
<line x1="275.5" y1="193.90" x2="281.0" y2="193.90" stroke="#000" stroke-width="1.2"/>
<line x1="443.6" y1="193.90" x2="449.1" y2="193.90" stroke="#000" stroke-width="1.2"/>
<text x="270.7" y="197.25" text-anchor="end" font-size="11" stroke="#000" stroke-width="0.12">-1.0</text>
<line x1="275.5" y1="216.54" x2="281.0" y2="216.54" stroke="#000" stroke-width="1.2"/>
<line x1="443.6" y1="216.54" x2="449.1" y2="216.54" stroke="#000" stroke-width="1.2"/>
<text x="270.7" y="219.89" text-anchor="end" font-size="11" stroke="#000" stroke-width="0.12">-1.2</text>
<line x1="275.5" y1="239.18" x2="281.0" y2="239.18" stroke="#000" stroke-width="1.2"/>
<line x1="443.6" y1="239.18" x2="449.1" y2="239.18" stroke="#000" stroke-width="1.2"/>
<text x="270.7" y="242.53" text-anchor="end" font-size="11" stroke="#000" stroke-width="0.12">-1.4</text>
<text x="363.2" y="264.7" text-anchor="middle" font-size="14">K</text>
<text x="358.1" y="36" text-anchor="end" font-size="12.6" transform="translate(0,36) scale(1,1.05) translate(0,-36)">spin-up</text>
<text x="370.2" y="36" text-anchor="start" font-size="12.6" transform="translate(0,36) scale(1,1.05) translate(0,-36)">spin-down</text>
<line x1="596.2" y1="24.4" x2="596.2" y2="250.4" stroke="#000" stroke-opacity="0.74" stroke-width="1.6"/>
<rect x="515.2" y="24.4" width="162.6" height="226.0" fill="none" stroke="#000" stroke-width="1.3"/>
<line x1="509.70000000000005" y1="35.42" x2="515.2" y2="35.42" stroke="#000" stroke-width="1.2"/>
<line x1="677.8" y1="35.42" x2="683.3" y2="35.42" stroke="#000" stroke-width="1.2"/>
<text x="504.1" y="38.77" text-anchor="end" font-size="11" stroke="#000" stroke-width="0.12">0.4</text>
<line x1="509.70000000000005" y1="58.06" x2="515.2" y2="58.06" stroke="#000" stroke-width="1.2"/>
<line x1="677.8" y1="58.06" x2="683.3" y2="58.06" stroke="#000" stroke-width="1.2"/>
<text x="504.1" y="61.41" text-anchor="end" font-size="11" stroke="#000" stroke-width="0.12">0.2</text>
<line x1="509.70000000000005" y1="80.70" x2="515.2" y2="80.70" stroke="#000" stroke-width="1.2"/>
<line x1="677.8" y1="80.70" x2="683.3" y2="80.70" stroke="#000" stroke-width="1.2"/>
<text x="504.1" y="84.05" text-anchor="end" font-size="11" stroke="#000" stroke-width="0.12">0.0</text>
<line x1="509.70000000000005" y1="103.34" x2="515.2" y2="103.34" stroke="#000" stroke-width="1.2"/>
<line x1="677.8" y1="103.34" x2="683.3" y2="103.34" stroke="#000" stroke-width="1.2"/>
<text x="504.1" y="106.69" text-anchor="end" font-size="11" stroke="#000" stroke-width="0.12">-0.2</text>
<line x1="509.70000000000005" y1="125.98" x2="515.2" y2="125.98" stroke="#000" stroke-width="1.2"/>
<line x1="677.8" y1="125.98" x2="683.3" y2="125.98" stroke="#000" stroke-width="1.2"/>
<text x="504.1" y="129.33" text-anchor="end" font-size="11" stroke="#000" stroke-width="0.12">-0.4</text>
<line x1="509.70000000000005" y1="148.62" x2="515.2" y2="148.62" stroke="#000" stroke-width="1.2"/>
<line x1="677.8" y1="148.62" x2="683.3" y2="148.62" stroke="#000" stroke-width="1.2"/>
<text x="504.1" y="151.97" text-anchor="end" font-size="11" stroke="#000" stroke-width="0.12">-0.6</text>
<line x1="509.70000000000005" y1="171.26" x2="515.2" y2="171.26" stroke="#000" stroke-width="1.2"/>
<line x1="677.8" y1="171.26" x2="683.3" y2="171.26" stroke="#000" stroke-width="1.2"/>
<text x="504.1" y="174.61" text-anchor="end" font-size="11" stroke="#000" stroke-width="0.12">-0.8</text>
<line x1="509.70000000000005" y1="193.90" x2="515.2" y2="193.90" stroke="#000" stroke-width="1.2"/>
<line x1="677.8" y1="193.90" x2="683.3" y2="193.90" stroke="#000" stroke-width="1.2"/>
<text x="504.1" y="197.25" text-anchor="end" font-size="11" stroke="#000" stroke-width="0.12">-1.0</text>
<line x1="509.70000000000005" y1="216.54" x2="515.2" y2="216.54" stroke="#000" stroke-width="1.2"/>
<line x1="677.8" y1="216.54" x2="683.3" y2="216.54" stroke="#000" stroke-width="1.2"/>
<text x="504.1" y="219.89" text-anchor="end" font-size="11" stroke="#000" stroke-width="0.12">-1.2</text>
<line x1="509.70000000000005" y1="239.18" x2="515.2" y2="239.18" stroke="#000" stroke-width="1.2"/>
<line x1="677.8" y1="239.18" x2="683.3" y2="239.18" stroke="#000" stroke-width="1.2"/>
<text x="504.1" y="242.53" text-anchor="end" font-size="11" stroke="#000" stroke-width="0.12">-1.4</text>
<text x="597.2" y="264.7" text-anchor="middle" font-size="14">K</text>
<text x="593.0" y="36" text-anchor="end" font-size="12.6" transform="translate(0,36) scale(1,1.05) translate(0,-36)">spin-up</text>
<text x="605.0" y="36" text-anchor="start" font-size="12.6" transform="translate(0,36) scale(1,1.05) translate(0,-36)">spin-down</text>
<text x="45.8" y="15.2" font-size="14" transform="translate(0,15.2) scale(1,1.06) translate(0,-15.2)">(a) C</text>
<text x="76.6" y="7.7" font-size="9.8">Mn-top</text>
<text x="281.1" y="15.2" font-size="14" transform="translate(0,15.2) scale(1,1.06) translate(0,-15.2)">(b) C</text>
<text x="310.8" y="7.7" font-size="9.8">Cu-top</text>
<text x="515.3" y="15.2" font-size="14" transform="translate(0,15.2) scale(1,1.06) translate(0,-15.2)">(c) C</text>
<text x="545.0" y="7.7" font-size="9.8">Cu-hcp</text>
<text transform="translate(11.8,168.3) rotate(-90)" font-size="14.5" font-weight="normal" stroke="#000" stroke-width="0.3" word-spacing="-1.3">E - E<tspan font-size="10" dy="4.4" dx="0.3">F</tspan><tspan dy="-4.4" dx="0.8" letter-spacing="-0.3"> (eV)</tspan></text>
<text transform="translate(245.4,168.3) rotate(-90)" font-size="14.5" font-weight="normal" stroke="#000" stroke-width="0.3" word-spacing="-1.3">E - E<tspan font-size="10" dy="4.4" dx="0.3">F</tspan><tspan dy="-4.4" dx="0.8" letter-spacing="-0.3"> (eV)</tspan></text>
<text transform="translate(479.3,168.3) rotate(-90)" font-size="14.5" font-weight="normal" stroke="#000" stroke-width="0.3" word-spacing="-1.3">E - E<tspan font-size="10" dy="4.4" dx="0.3">F</tspan><tspan dy="-4.4" dx="0.8" letter-spacing="-0.3"> (eV)</tspan></text>
</svg>
</body></html>
